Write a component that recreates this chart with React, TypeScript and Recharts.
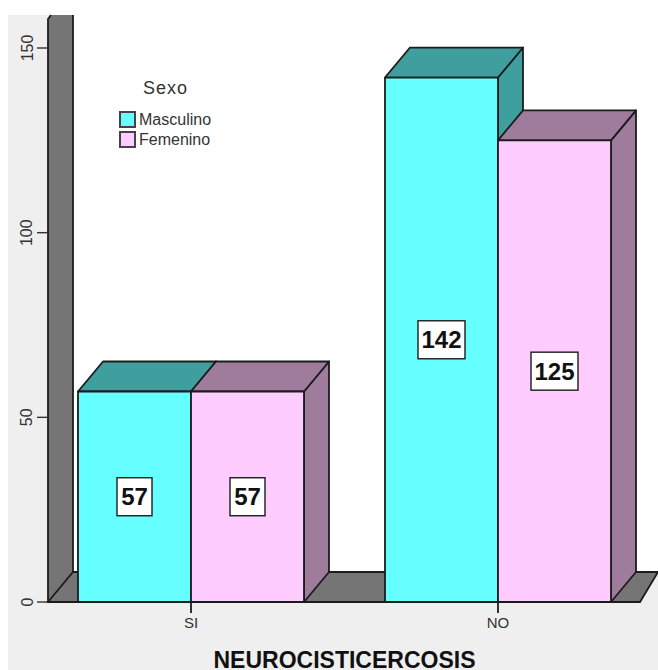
import React from "react";
import { BarChart, Bar, XAxis, YAxis, Legend, LabelList, Customized } from "recharts";

const categories = ["SI", "NO"];
const masculino = [57, 142];
const femenino = [57, 125];
const valueTicks = [0, 50, 100, 150];
const seriesNames = ["Masculino", "Femenino"];
const axisTitle = "NEUROCISTICERCOSIS";
const legendTitle = "Sexo";

const rows = categories.map((name, i) => ({
  name,
  Masculino: masculino[i],
  Femenino: femenino[i],
}));

const FONT = "'Liberation Sans', Arial, sans-serif";
const INK = "#1c1c1c";
const DEPTH_X = 25;
const DEPTH_Y = 30;

const shades: Record<string, string> = {
  "#66ffff": "#3f9e9e",
  "#ffccff": "#9f7b9c",
};

// Front face, top and right side of one extruded column.
function Column3D(props: any) {
  const { x, y, width, height, fill } = props;
  const dark = shades[fill];
  const r = x + width;
  const b = y + height;
  const pts = (...p: number[][]) => p.map((q) => q.join(",")).join(" ");
  return (
    <g stroke={INK} strokeWidth={1.8} strokeLinejoin="round">
      <polygon fill={dark} points={pts([r, y], [r + DEPTH_X, y - DEPTH_Y], [r + DEPTH_X, b - DEPTH_Y], [r, b])} />
      <polygon fill={dark} points={pts([x, y], [x + DEPTH_X, y - DEPTH_Y], [r + DEPTH_X, y - DEPTH_Y], [r, y])} />
      <rect x={x} y={y} width={width} height={height} fill={fill} />
    </g>
  );
}

// White value tag centred on the column's front face.
function ValueTag(props: any) {
  const { x, y, width, height, value } = props;
  const w = String(value).length > 2 ? 47 : 35;
  const h = 38;
  const cx = x + width / 2;
  const cy = y + height / 2;
  return (
    <g>
      <rect x={cx - w / 2} y={cy - h / 2} width={w} height={h} fill="#fff" stroke={INK} strokeWidth={1.4} />
      <text x={cx} y={cy + 8.5} textAnchor="middle" fontFamily={FONT} fontWeight="bold" fontSize={24} fill="#111">
        {value}
      </text>
    </g>
  );
}

// Plot backdrop: white field, grey left wall and grey floor.
function Room() {
  const wallL = 48;
  const wallR = 73;
  const top = 15;
  const floorFront = 602;
  const floorBack = 572;
  const floorR = 640;
  const pageR = 658;
  return (
    <g>
      <rect x={wallR} y={top} width={pageR - wallR} height={floorBack - top} fill="#fff" />
      <polygon
        points={`${wallL},${top + 4} ${wallL + 3},${top} ${wallR},${top} ${wallR},${floorBack} ${wallL},${floorFront}`}
        fill="#757575"
      />
      <polyline
        points={`${wallL + 3},${top} ${wallL},${top + 4} ${wallL},${floorFront}`}
        fill="none"
        stroke={INK}
        strokeWidth={1.8}
      />
      <line x1={wallR} y1={top} x2={wallR} y2={floorBack} stroke={INK} strokeWidth={1.8} />
      <polygon
        points={`${wallL},${floorFront} ${wallR},${floorBack} ${pageR},${floorBack} ${floorR},${floorFront}`}
        fill="#757575"
        stroke={INK}
        strokeWidth={1.8}
      />
    </g>
  );
}

function ValueTick(props: any) {
  const { y, payload } = props;
  return (
    <g>
      <line x1={37} x2={48} y1={y} y2={y} stroke="#333" strokeWidth={1.4} />
      <text
        x={27}
        y={y}
        transform={`rotate(-90 27 ${y})`}
        textAnchor="middle"
        dominantBaseline="central"
        fontFamily={FONT}
        fontSize={16}
        fill="#333"
      >
        {payload.value}
      </text>
    </g>
  );
}

function SexLegend({ payload }: any) {
  return (
    <div style={{ fontFamily: FONT, color: "#333" }}>
      <div style={{ fontSize: 18, letterSpacing: 1, marginLeft: 24, height: 31, lineHeight: "20px" }}>{legendTitle}</div>
      {(payload || []).map((item: any) => (
        <div key={item.value} style={{ display: "flex", alignItems: "center", height: 20, fontSize: 16, lineHeight: "20px" }}>
          <span
            style={{
              width: 13,
              height: 13,
              background: item.color,
              border: "2px solid #444",
              marginRight: 3,
              display: "inline-block",
              flex: "none",
            }}
          />
          <span style={{ position: "relative", top: 1 }}>{item.value}</span>
        </div>
      ))}
    </div>
  );
}

export default function App() {
  return (
    <div style={{ position: "absolute", left: 0, top: 0, width: 658, height: 670, background: "#fff", overflow: "hidden" }}>
      <div style={{ position: "absolute", left: 8, top: 15, width: 650, height: 655, background: "#efefef" }} />
      <BarChart
        width={658}
        height={670}
        data={rows}
        margin={{ top: 48, right: 6.5, bottom: 0, left: 0 }}
        barCategoryGap={40.5}
        barGap={0}
        style={{ position: "absolute", left: 0, top: 0 }}
      >
        <Customized component={Room} />
        <XAxis
          dataKey="name"
          axisLine={false}
          tickSize={11}
          tickMargin={4}
          tickLine={{ stroke: INK, strokeWidth: 1.8 }}
          tick={{ fontFamily: FONT, fontSize: 15, fill: "#333" }}
          interval={0}
          label={{
            value: axisTitle,
            position: "insideBottom",
            offset: 2,
            fontFamily: FONT,
            fontWeight: "bold",
            fontSize: 23,
            fill: "#111",
          }}
          height={68}
        />
        <YAxis width={37.5} domain={[0, 150]} ticks={valueTicks} axisLine={false} tickLine={false} tick={<ValueTick />} interval={0} />
        <Legend
          content={<SexLegend />}
          layout="vertical"
          align="center"
          verticalAlign="middle"
          itemSorter={(item: any) => seriesNames.indexOf(item.value)}
          wrapperStyle={{ position: "absolute", left: 119, top: 78, width: 120, bottom: "auto", right: "auto" }}
        />
        <Bar dataKey="Masculino" name={seriesNames[0]} fill="#66ffff" shape={<Column3D />} isAnimationActive={false}>
          <LabelList dataKey="Masculino" content={<ValueTag />} />
        </Bar>
        <Bar dataKey="Femenino" name={seriesNames[1]} fill="#ffccff" shape={<Column3D />} isAnimationActive={false}>
          <LabelList dataKey="Femenino" content={<ValueTag />} />
        </Bar>
      </BarChart>
    </div>
  );
}
